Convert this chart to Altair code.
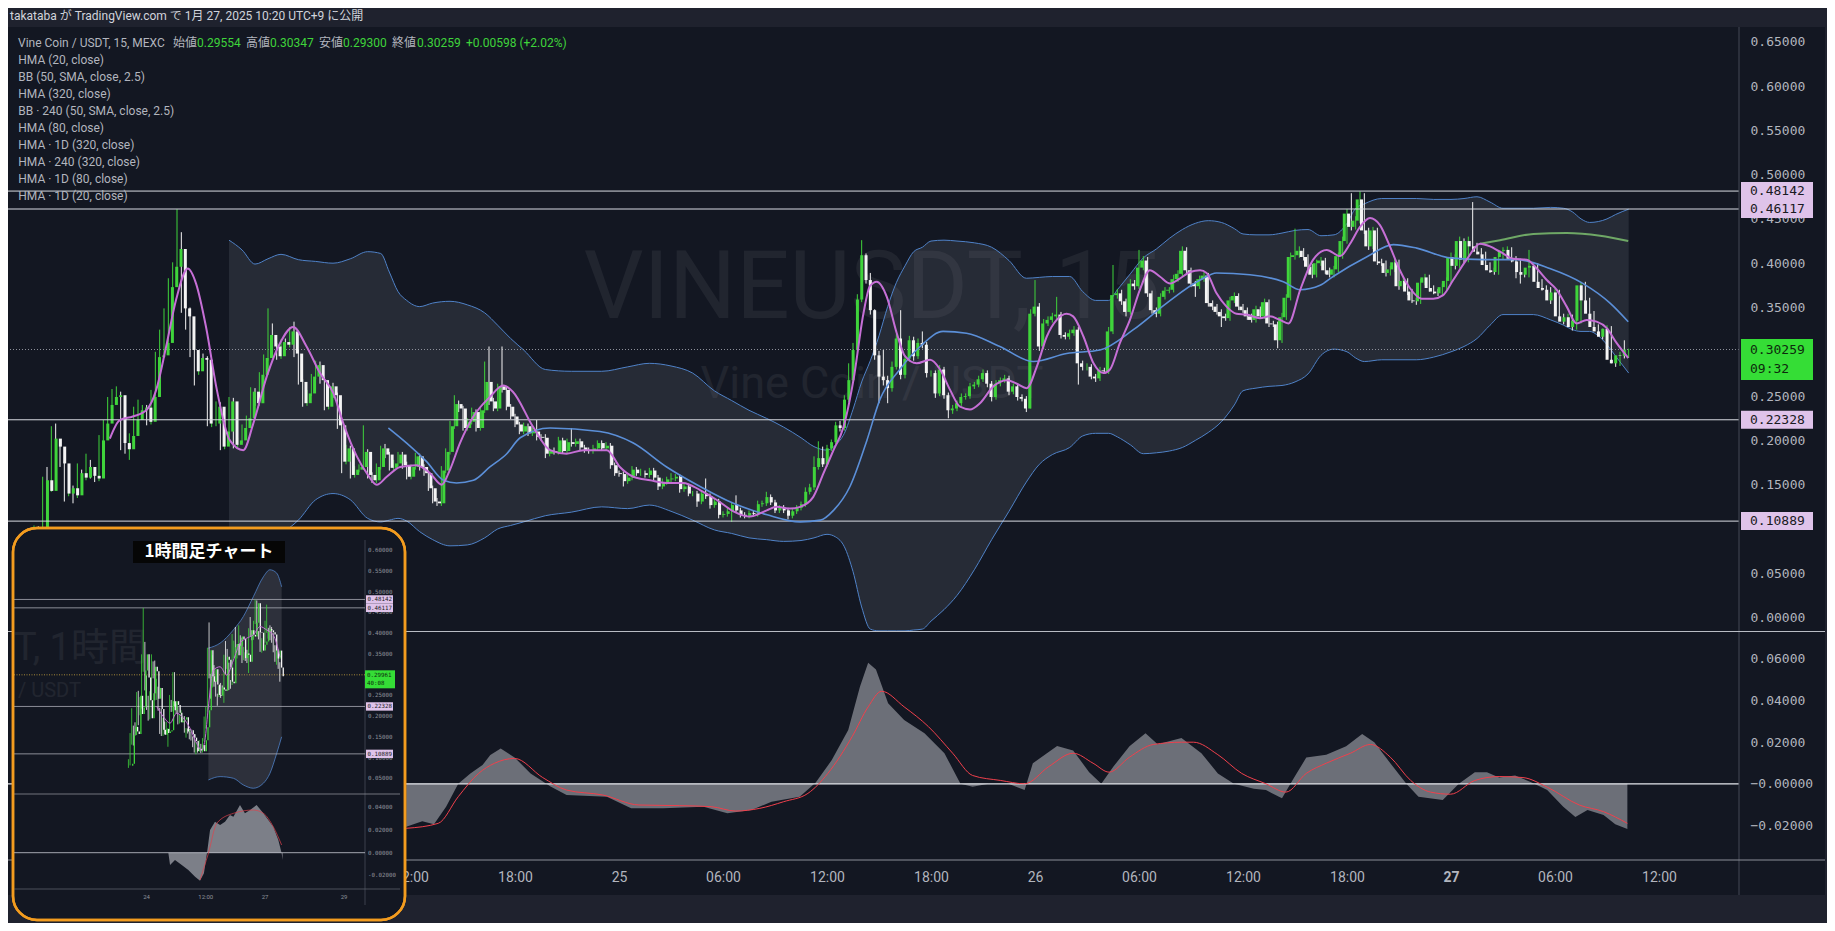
import altair as alt
import numpy as np
import pandas as pd

# ===================== DATA =====================
HEADER = "takataba が TradingView.com で 1月 27, 2025 10:20 UTC+9 に公開"
SYMBOL_LINE = "Vine Coin / USDT, 15, MEXC"
OHLC_NAMES = ["始値", "高値", "安値", "終値"]
OHLC_VALUES = ["0.29554", "0.30347", "0.29300", "0.30259"]
CHANGE = "+0.00598 (+2.02%)"
INDICATORS = ["HMA (20, close)", "BB (50, SMA, close, 2.5)", "HMA (320, close)",
              "BB · 240 (50, SMA, close, 2.5)", "HMA (80, close)", "HMA · 1D (320, close)",
              "HMA · 240 (320, close)", "HMA · 1D (80, close)", "HMA · 1D (20, close)"]
WATERMARK = ["VINEUSDT, 15", "Vine Coin / USDT"]
INSET_TITLE = "1時間足チャート"
INSET_WATERMARK = ["T, 1時間", "/ USDT"]

# 15-minute candles; q = quarter-hours relative to 27 Jan 00:00, prices in 1/1000 USDT
FIRST_Q = -330
FIRST_OPEN = 80
CLOSE = [
    92, 85, 95, 100, 92, 155, 143, 202, 193, 174,
    140, 146, 138, 163, 158, 170, 160, 157, 200, 219,
    240, 249, 251, 197, 190, 205, 223, 234, 237, 221,
    249, 294, 296, 310, 373, 396, 416, 349, 340, 302,
    278, 293, 291, 219, 219, 238, 193, 210, 244, 195,
    200, 214, 225, 255, 242, 274, 293, 319, 306, 295,
    311, 308, 323, 298, 266, 242, 253, 272, 285, 268,
    238, 261, 251, 217, 176, 191, 161, 167, 170, 187,
    161, 155, 170, 191, 184, 169, 174, 184, 172, 159,
    170, 182, 170, 163, 146, 131, 129, 166, 187, 216,
    241, 236, 214, 221, 232, 214, 234, 266, 244, 236,
    261, 257, 238, 227, 218, 210, 216, 208, 210, 204,
    203, 185, 188, 187, 200, 188, 198, 196, 199, 192,
    189, 188, 191, 197, 191, 194, 172, 163, 162, 154,
    158, 167, 163, 163, 161, 166, 158, 148, 153, 156,
    157, 159, 145, 148, 140, 140, 131, 140, 137, 127,
    131, 116, 117, 120, 127, 121, 116, 115, 118, 117,
    128, 129, 136, 130, 121, 124, 121, 115, 120, 124,
    128, 142, 147, 170, 180, 173, 191, 198, 217, 214,
    246, 268, 302, 359, 409, 381, 347, 296, 272, 268,
    259, 283, 315, 274, 292, 313, 295, 310, 308, 276,
    276, 253, 280, 251, 234, 236, 242, 249, 250, 261,
    263, 269, 276, 264, 249, 264, 268, 270, 255, 261,
    249, 247, 236, 343, 351, 306, 332, 336, 340, 342,
    319, 317, 321, 325, 287, 283, 283, 272, 270, 279,
    278, 323, 364, 366, 357, 345, 377, 374, 395, 403,
    366, 347, 343, 362, 369, 370, 382, 388, 414, 392,
    377, 374, 382, 386, 355, 351, 345, 340, 338, 358,
    363, 351, 347, 340, 336, 348, 340, 356, 332, 331,
    313, 339, 361, 407, 409, 414, 407, 396, 387, 400,
    403, 392, 387, 393, 408, 425, 456, 441, 448, 472,
    437, 419, 437, 402, 400, 389, 393, 401, 374, 380,
    368, 358, 357, 378, 384, 372, 368, 366, 373, 380,
    407, 397, 425, 404, 425, 419, 413, 410, 398, 392,
    390, 407, 414, 415, 405, 402, 390, 387, 395, 397,
    379, 372, 370, 358, 367, 340, 334, 339, 328, 335,
    375, 358, 343, 328, 323, 317, 326, 291, 287, 296,
    295.5, 302.59,
]
UPPER_WICK = [
    3, 4, 5, 4, 3, 4, 15, 14, 17, 4,
    3, 8, 3, 11, 4, 15, 8, 3, 6, 4,
    9, 9, 10, 4, 3, 3, 15, 12, 3, 3,
    8, 6, 29, 39, 10, 5, 45, 19, 30, 10,
    4, 3, 5, 4, 3, 6, 5, 3, 5, 4,
    3, 4, 3, 5, 4, 3, 4, 30, 13, 4,
    3, 4, 5, 11, 4, 3, 4, 3, 5, 4,
    3, 5, 4, 3, 3, 4, 3, 4, 3, 30,
    3, 3, 4, 3, 5, 3, 4, 3, 3, 4,
    3, 4, 3, 3, 3, 3, 4, 5, 4, 6,
    10, 4, 3, 4, 5, 3, 4, 23, 40, 4,
    3, 45, 4, 3, 3, 3, 4, 3, 4, 13,
    3, 4, 3, 4, 4, 3, 4, 16, 3, 3,
    3, 3, 4, 3, 3, 4, 3, 3, 3, 3,
    3, 4, 3, 5, 3, 3, 3, 3, 4, 3,
    6, 3, 3, 3, 3, 3, 3, 4, 17, 3,
    3, 3, 3, 4, 3, 11, 3, 3, 3, 3,
    4, 3, 6, 3, 3, 3, 3, 3, 3, 3,
    3, 5, 4, 12, 19, 13, 4, 3, 4, 5,
    5, 19, 8, 6, 17, 2, 8, 1, 5, 30,
    5, 6, 5, 32, 4, 5, 4, 5, 13, 3,
    3, 3, 5, 3, 3, 4, 3, 4, 3, 4,
    3, 4, 4, 3, 3, 4, 3, 4, 3, 3,
    3, 3, 3, 5, 30, 4, 5, 4, 4, 20,
    3, 3, 4, 4, 3, 3, 4, 3, 3, 4,
    3, 5, 34, 5, 4, 3, 5, 4, 20, 5,
    4, 3, 3, 4, 4, 3, 5, 4, 5, 4,
    3, 3, 4, 4, 3, 3, 3, 3, 3, 4,
    4, 3, 3, 3, 3, 4, 3, 4, 3, 3,
    3, 5, 4, 5, 30, 5, 3, 3, 3, 4,
    4, 3, 3, 4, 4, 5, 5, 23, 5, 9,
    7, 3, 4, 3, 3, 3, 4, 4, 3, 4,
    3, 3, 3, 4, 4, 3, 3, 3, 4, 4,
    5, 3, 5, 3, 5, 44, 4, 4, 3, 3,
    3, 4, 4, 4, 3, 3, 3, 3, 20, 4,
    3, 3, 3, 3, 4, 3, 3, 4, 3, 4,
    4, 4, 3, 3, 3, 3, 4, 3, 3, 4,
    17, 0.88,
]
LOWER_WICK = [
    5, 6, 4, 5, 6, 4, 12, 1, 7, 4,
    9, 3, 9, 3, 3, 3, 3, 4, 3, 3,
    3, 3, 3, 8, 5, 12, 3, 3, 3, 4,
    3, 3, 3, 3, 3, 3, 3, 5, 15, 8,
    16, 4, 3, 3, 4, 3, 4, 3, 3, 4,
    3, 3, 4, 3, 3, 3, 3, 3, 4, 4,
    3, 3, 3, 4, 3, 4, 3, 3, 3, 4,
    4, 3, 3, 4, 13, 3, 4, 3, 3, 3,
    4, 3, 3, 3, 4, 3, 3, 3, 4, 3,
    3, 3, 4, 3, 3, 2, 3, 3, 3, 3,
    3, 4, 3, 3, 3, 4, 3, 3, 4, 3,
    3, 3, 4, 3, 3, 3, 3, 3, 3, 4,
    3, 5, 3, 3, 3, 3, 3, 3, 3, 3,
    3, 3, 3, 3, 3, 3, 4, 3, 3, 6,
    3, 3, 3, 3, 3, 3, 3, 4, 3, 3,
    3, 3, 4, 3, 3, 3, 6, 3, 3, 4,
    3, 4, 3, 3, 12, 3, 3, 3, 3, 3,
    3, 3, 3, 3, 3, 3, 3, 4, 3, 3,
    3, 3, 3, 3, 3, 3, 3, 3, 3, 4,
    3, 3, 3, 3, 3, 4, 5, 5, 30, 6,
    17, 4, 3, 5, 4, 3, 5, 3, 4, 5,
    4, 5, 3, 4, 9, 4, 3, 3, 3, 3,
    3, 3, 3, 4, 5, 3, 3, 3, 4, 3,
    4, 3, 4, 0, 3, 5, 3, 3, 3, 3,
    4, 3, 3, 3, 24, 4, 4, 3, 4, 3,
    3, 3, 3, 4, 4, 5, 3, 4, 3, 3,
    4, 4, 4, 3, 3, 3, 3, 3, 3, 4,
    4, 12, 3, 3, 4, 4, 3, 12, 3, 3,
    3, 4, 3, 4, 3, 3, 3, 3, 4, 3,
    9, 3, 3, 3, 3, 3, 4, 3, 4, 3,
    3, 4, 3, 3, 3, 3, 3, 4, 3, 3,
    4, 4, 3, 4, 3, 4, 3, 3, 4, 3,
    4, 3, 4, 3, 3, 4, 3, 3, 3, 3,
    3, 4, 3, 4, 3, 4, 3, 3, 4, 3,
    3, 3, 3, 3, 4, 19, 13, 3, 3, 3,
    4, 3, 3, 4, 3, 4, 3, 3, 4, 3,
    3, 4, 3, 4, 3, 3, 3, 4, 4, 3,
    3, 2.54,
]

# Bollinger band (50, 2.5)
BB_Q = [-282, -279, -276, -273, -270, -266, -262, -258, -254, -250,
        -247, -245, -243, -241, -238, -235, -231, -227, -223, -220,
        -217, -214, -209, -203, -196, -190, -185, -180, -175, -170,
        -166, -162, -158, -154, -150, -147, -144, -142, -140, -138,
        -136, -134, -132, -130, -128, -126, -124, -122, -120, -117,
        -114, -110, -106, -102, -98, -95, -92, -88, -85, -82,
        -79, -77, -74, -71, -68, -65, -62, -59, -56, -53,
        -50, -48, -45, -42, -39, -36, -33, -30, -27, -24,
        -22, -20, -16, -12, -8, -4, 0, 3, 6, 9,
        12, 15, 19, 23, 26, 28, 30, 32, 34, 36,
        38, 41]
BB_UP = [426, 415, 399, 405, 410, 404, 402, 400, 405, 413,
         411, 390, 368, 358, 351, 355, 357, 353, 344, 330,
         315, 302, 280, 278, 278, 283, 287, 284, 276, 256,
         245, 234, 225, 215, 203, 193, 189, 195, 208, 235,
         266, 290, 318, 351, 378, 397, 413, 418, 425, 426,
         425, 423, 418, 403, 383, 384, 385, 385, 368, 358,
         358, 370, 388, 406, 416, 428, 438, 445, 448, 446,
         439, 433, 432, 432, 434, 437, 438, 431, 432, 445,
         462, 467, 473, 473, 473, 472, 472, 473, 475, 469,
         462, 462, 462, 463, 462, 458, 450, 446, 447, 450,
         455, 461]
BB_LO = [85, 80, 80, 88, 95, 110, 133, 140, 133, 112,
         108, 110, 112, 109, 97, 88, 81, 82, 90, 100,
         104, 108, 115, 119, 125, 123, 127, 120, 110, 99,
         95, 90, 88, 86, 87, 90, 94, 91, 80, 52,
         12, -13, -15, -15, -15, -15, -14, -13, -4, 9,
         25, 54, 88, 120, 153, 173, 184, 192, 205, 208,
         208, 204, 195, 185, 186, 188, 192, 200, 209, 221,
         240, 256, 259, 261, 262, 266, 275, 296, 303, 300,
         293, 289, 291, 291, 291, 294, 300, 306, 315, 330,
         342, 342, 342, 336, 330, 325, 323, 323, 318, 308,
         295, 276]

HMA80_Q = [-245.2, -241, -236.4, -232.5, -229.5, -225.6, -221.8, -217.9, -214.8, -207.9,
           -196.4, -188.7, -181, -173.3, -165.6, -157.8, -150.2, -145.5, -142.5, -138.7,
           -134.8, -131.8, -127.2, -122.5, -117.2, -111.8, -104.1, -96.4, -88.7, -81,
           -73.3, -65.6, -57.9, -54.1, -46.4, -38.7, -34.8, -30.2, -27.2, -19.5,
           -13.3, -7.9, -0.2, 7.5, 15.2, 22.8, 30.5, 36.7, 40.9]
HMA80_P = [214, 197, 176, 155, 152, 155, 170, 185, 203, 214,
           210, 197, 170, 148, 129, 116, 108, 110, 121, 148,
           200, 246, 280, 306, 323, 321, 306, 289, 298, 302,
           325, 355, 381, 389, 387, 379, 370, 375, 385, 407,
           421, 417, 406, 404, 404, 394, 377, 355, 334]

HMA20_Q = [-309.5, -307.2, -304.2, -301.1, -298.8, -296.5, -294.2, -291.5, -289.6, -287.3,
           -284.8, -281.8, -278.7, -276.4, -273.3, -270.2, -267.2, -264.1, -261, -257.9,
           -255.6, -252.5, -250.2, -247.9, -245.6, -242.5, -238.7, -235.6, -232.9, -231,
           -228.7, -225.6, -221.8, -218.7, -216.5, -211.8, -207.9, -204.1, -200.2, -194.8,
           -191.8, -188.7, -184.8, -181, -177.2, -173.3, -169.5, -165.6, -161.8, -157.9,
           -155.6, -152.5, -150.2, -147.2, -144.8, -142.5, -140.2, -137.9, -135.6, -134.1,
           -132.5, -130.2, -127.9, -126, -123.3, -120.2, -117.9, -115.6, -113.3, -111,
           -108.7, -105.6, -102.5, -100.2, -97.9, -95.6, -93.3, -91, -88.7, -87.2,
           -84.8, -82.5, -80.2, -78.7, -76.4, -74.1, -71.8, -69.5, -67.2, -64.8,
           -62.5, -60.2, -57.9, -56.4, -54.1, -51.8, -49.5, -47.2, -44.1, -41.8,
           -39.5, -37.5, -34.8, -31.8, -28.7, -25.6, -23.3, -21, -18.7, -16.4,
           -14.1, -11.8, -9.5, -6.8, -4.1, -1.8, 0.5, 3.6, 6.7, 9,
           11.3, 14.4, 17.5, 19.8, 22.1, 24.4, 26.7, 29, 31.3, 33.6,
           35.9, 38.2, 40.9]
HMA20_P = [202, 223, 227, 234, 257, 306, 359, 394, 377, 328,
           257, 200, 189, 219, 272, 310, 328, 306, 276, 253,
           219, 182, 163, 150, 159, 170, 172, 163, 150, 167,
           197, 227, 249, 262, 255, 215, 189, 185, 189, 189,
           170, 159, 155, 152, 152, 144, 133, 120, 114, 121,
           125, 123, 125, 136, 163, 189, 215, 268, 343, 374,
           379, 362, 321, 295, 287, 291, 280, 257, 238, 235,
           242, 261, 268, 264, 259, 283, 317, 336, 343, 340,
           317, 287, 276, 280, 310, 336, 370, 392, 385, 377,
           383, 390, 392, 389, 366, 351, 343, 342, 338, 340,
           336, 332, 370, 404, 415, 408, 422, 441, 451, 443,
           419, 392, 372, 360, 360, 364, 381, 404, 422, 419,
           413, 405, 404, 394, 381, 370, 351, 332, 336, 334,
           327, 310, 293]

HMA320_Q = [6.7, 11.3, 19, 26.7, 34.4, 40.9]
HMA320_P = [422, 426, 433, 434, 431, 425]

# oscillator pane (value and signal line)
OSC_Q = [-241.1, -237.4, -234.7, -231.9, -229.1, -226.3, -223.5, -221.7, -219.3, -216.1,
         -212.4, -207.8, -204.1, -194.8, -189.2, -181.8, -172.5, -167.0, -161.4, -156.8,
         -150.3, -146.6, -142.9, -139.1, -136.4, -134.5, -132.7, -129.9, -126.2, -121.5,
         -116.9, -113.2, -110.4, -106.7, -102.1, -98.4, -96.5, -90.9, -87.2, -83.5,
         -80.7, -77.9, -74.2, -70.5, -67.7, -62.2, -57.6, -53.8, -50.1, -45.5,
         -42.7, -39.0, -36.2, -33.4, -28.8, -24.2, -20.5, -17.7, -14.0, -10.3,
         -7.5, -1.9, 1.8, 5.5, 8.3, 11.1, 14.8, 18.5, 22.2, 25.9,
         28.7, 31.5, 35.2, 37.9, 40.7]
OSC_V = [-0.0206, -0.018, -0.0195, -0.011, 0.0, 0.005, 0.009, 0.0138, 0.017, 0.0127,
         0.005, -0.0013, -0.0054, -0.0062, -0.0118, -0.0118, -0.011, -0.0142, -0.0126, -0.0086,
         -0.0062, 0.0006, 0.0114, 0.0259, 0.0467, 0.0582, 0.055, 0.0387, 0.0307, 0.0243,
         0.0147, 0.0, -0.0014, 0.0, 0.0, -0.003, 0.0099, 0.0182, 0.016, 0.0056,
         0.0, 0.0083, 0.018, 0.0243, 0.019, 0.022, 0.0147, 0.005, 0.0, -0.0024,
         -0.003, -0.007, 0.003, 0.0126, 0.014, 0.018, 0.024, 0.020, 0.0099, 0.0,
         -0.0062, -0.0078, 0.0, 0.0056, 0.0056, 0.003, 0.004, 0.0008, -0.003, -0.011,
         -0.016, -0.0126, -0.015, -0.0195, -0.0217]
SIG_Q = [-241.1, -233.7, -229.1, -224.4, -220.7, -216.1, -209.6, -204.1, -195.7, -187.4,
         -178.1, -170.7, -165.1, -159.5, -154.0, -148.4, -143.8, -138.2, -134.5, -131.4,
         -126.2, -120.6, -115.0, -110.4, -103.9, -98.4, -92.8, -87.2, -82.6, -78.9,
         -74.2, -68.7, -62.2, -59.4, -53.8, -48.3, -42.7, -38.1, -33.4, -28.8,
         -23.2, -18.6, -14.0, -9.3, -4.7, -0.1, 5.5, 11.1, 16.6, 22.2,
         29.6, 35.2, 40.7]
SIG_V = [-0.0214, -0.019, -0.0062, 0.005, 0.0099, 0.0122, 0.003, -0.003, -0.0054, -0.0102,
         -0.0105, -0.011, -0.0131, -0.0118, -0.0086, -0.0046, 0.005, 0.0227, 0.037, 0.0445,
         0.037, 0.0275, 0.0147, 0.004, 0.0016, 0.0, 0.0083, 0.0147, 0.0099, 0.0056,
         0.0128, 0.0189, 0.020, 0.020, 0.014, 0.005, 0.0, -0.004, 0.005, 0.0099,
         0.0147, 0.0189, 0.0128, 0.0016, -0.004, -0.005, 0.0016, 0.0035, 0.003, -0.0016,
         -0.0102, -0.0134, -0.019]

LEVELS = [0.48142, 0.46117, 0.22328, 0.10889]
LAST_PRICE, COUNTDOWN = 0.30259, "09:32"
# 0.10000 and 0.30000 sit fully under the price boxes in the original, so they are not listed
PRICE_TICKS = [0.0, 0.05, 0.15, 0.20, 0.25, 0.35, 0.40, 0.45, 0.50, 0.55, 0.60, 0.65]
OSC_TICKS = [0.06, 0.04, 0.02, 0.0, -0.02]
TIME_TICKS = list(range(-78, 13, 6))      # hours from 27 Jan 00:00

# inset: 1-hour chart (hours from 27 Jan 00:00)
INSET_BB_H = [-34.4, -27.3, -19.2, -13.2, -7.1, -1.0, 3.0, 7.1, 10.1]
INSET_BB_UP = [364, 376, 408, 440, 488, 536, 553, 545, 512]
INSET_BB_LO = [46, 54, 50, 34, 26, 38, 62, 110, 150]
INSET_HMA_H = [-65.8, -61.8, -57.7, -53.7, -49.6, -45.6, -41.5, -38.5, -36.5, -34.4,
               -31.4, -27.3, -23.3, -19.2, -15.2, -11.1, -7.1, -3.0, 1.0, 5.0, 9.1]
INSET_HMA_P = [223, 199, 183, 207, 195, 171, 134, 118, 142, 223,
               311, 319, 299, 335, 376, 388, 396, 416, 408, 396, 343]
INSET_OSC_H = [-58.7, -57.7, -54.7, -50.6, -46.6, -42.5, -39.5, -37.1, -35.0, -33.4,
               -30.4, -27.3, -24.3, -21.3, -19.2, -15.2, -12.2, -9.1, -5.1, -1.0,
               2.0, 5.0, 8.1, 10.1, 10.7]
INSET_OSC_V = [-0.0005, -0.0108, -0.0064, -0.0108, -0.0152, -0.0211, -0.0247, -0.0182, 0.0024, 0.020,
               0.0273, 0.0244, 0.0273, 0.0332, 0.0317, 0.042, 0.0347, 0.0376, 0.042, 0.0347,
               0.0288, 0.0229, 0.0112, -0.0005, -0.0064]
INSET_SIG_H = [-39.5, -34.4, -29.3, -19.2, -7.1, -1.0, 5.0, 10.1]
INSET_SIG_V = [-0.024, -0.0005, 0.026, 0.0347, 0.0376, 0.0347, 0.0229, 0.0068]
INSET_LAST, INSET_COUNTDOWN = 0.29961, "40:08"
INSET_PRICE_TICKS = [0.60, 0.55, 0.50, 0.45, 0.40, 0.35, 0.30, 0.25, 0.20, 0.15, 0.10, 0.05]
INSET_OSC_TICKS = [0.04, 0.02, 0.0, -0.02]
INSET_TIME_H = [-72, -36, 0, 48]
INSET_TIME_LABELS = ["24", "12:00", "27", "29"]

# ===================== STYLE / LAYOUT =====================
W, H = 1731, 852
X_DOM = [-83.25, 16.615]
PY_DOM = [-0.27359, 0.68804]
OY_DOM = [-0.036635, 0.37298]
IX_DOM = [-156.16, 895.6]
IPY_DOM = [-0.14716, 1.90832]
IOY_DOM = [-0.006432, 0.74423]

BG = "#131722"
BAND = "#1f222e"
GREEN = "#3fd43b"
WHITE = "#f4f4f4"
TXT = "#b2b5be"
BLUE = "#4f82c8"
PINK = "#c66fd6"
LAV = "#dfc3ea"
SANS = "Roboto, 'Noto Sans CJK JP', sans-serif"
MONO = "'DejaVu Sans Mono', monospace"
CJK = "'Noto Sans CJK JP', sans-serif"

ONE = pd.DataFrame({"k": [0]})


def sc(dom):
    return alt.Scale(domain=dom, nice=False, zero=False)


def txt(text, x, y, size, color, font=SANS, align="left", baseline="alphabetic", **kw):
    return alt.Chart(ONE).mark_text(text=text, align=align, baseline=baseline, font=font,
                                    fontSize=size, color=color, **kw).encode(
        x=alt.value(x), y=alt.value(y))


def box(x1, x2, y1, y2, **kw):
    return alt.Chart(ONE).mark_rect(**kw).encode(
        x=alt.value(x1), x2=alt.value(x2), y=alt.value(y1), y2=alt.value(y2))


def hline(x1, x2, y, color, width=1.0):
    return alt.Chart(ONE).mark_rule(color=color, strokeWidth=width).encode(
        x=alt.value(x1), x2=alt.value(x2), y=alt.value(y))


def vline(x, y1, y2, color, width=1.0):
    return alt.Chart(ONE).mark_rule(color=color, strokeWidth=width).encode(
        x=alt.value(x), y=alt.value(y1), y2=alt.value(y2))


# ---------- candle table ----------
rows = []
prev = FIRST_OPEN
for i, c in enumerate(CLOSE):
    o = prev
    rows.append(dict(h=(FIRST_Q + i) / 4.0, o=o / 1000, c=c / 1000,
                     hi=(max(o, c) + UPPER_WICK[i]) / 1000,
                     lo=(min(o, c) - LOWER_WICK[i]) / 1000))
    prev = c
cdf = pd.DataFrame(rows)
cdf["hour"] = np.floor(cdf["h"])
hourly = (cdf[cdf["hour"] < 10].groupby("hour")
          .agg(o=("o", "first"), c=("c", "last"), hi=("hi", "max"), lo=("lo", "min"))
          .reset_index().rename(columns={"hour": "h"}))

bull = alt.condition("datum.c >= datum.o", alt.value(GREEN), alt.value(WHITE))

price_axis = alt.Axis(orient="right", values=PRICE_TICKS, format=".5f", title=None, grid=False,
                      ticks=False, domain=False, labelColor=TXT, labelFont=MONO, labelFontSize=13,
                      labelPadding=11, labelOverlap=False, labelFlush=False)
osc_axis = alt.Axis(orient="right", values=OSC_TICKS, title=None, grid=False, ticks=False,
                    domain=False, labelColor=TXT, labelFont=MONO, labelFontSize=13,
                    labelPadding=11, labelOverlap=False, labelFlush=False,
                    labelExpr="abs(datum.value) < 0.001 ? '\u22120.00000' : format(datum.value, '.5f')")
time_axis = alt.Axis(orient="bottom", values=TIME_TICKS, title=None, grid=False, ticks=False,
                     domain=False, labelColor=TXT, labelFont=SANS, labelFontSize=14,
                     labelPadding=10, labelOverlap=False, labelFlush=False,
                     labelFontWeight={"condition": {"test": "datum.value === 0", "value": "bold"},
                                      "value": "normal"},
                     labelExpr="datum.value % 24 === 0 ? '' + (27 + datum.value / 24) : "
                               "((((datum.value % 24) + 24) % 24) < 10 ? '0' : '') + "
                               "(((datum.value % 24) + 24) % 24) + ':00'")


def PX(field="h", axis=None):
    return alt.X(f"{field}:Q", scale=sc(X_DOM), axis=axis)


def PY(field, axis=None):
    return alt.Y(f"{field}:Q", scale=sc(PY_DOM), axis=axis)


# ---------- main price pane ----------
bbdf = pd.DataFrame({"h": np.array(BB_Q) / 4, "up": np.array(BB_UP) / 1000, "lo": np.array(BB_LO) / 1000})


def line_df(qs, ps):
    return pd.DataFrame({"h": np.array(qs) / 4, "p": np.array(ps) / 1000})


lvdf = pd.DataFrame({"p": LEVELS, "label": [f"{v:.5f}" for v in LEVELS]})
lpdf = pd.DataFrame({"p": [LAST_PRICE], "label": [f"{LAST_PRICE:.5f}"], "timer": [COUNTDOWN]})

price_layers = [
    alt.Chart(bbdf).mark_area(color="#8a8d98", opacity=0.17, interpolate="monotone").encode(
        x=PX(), y=PY("up"), y2="lo:Q"),
    alt.Chart(bbdf).mark_line(color=BLUE, strokeWidth=1, interpolate="monotone").encode(x=PX(), y=PY("up")),
    alt.Chart(bbdf).mark_line(color=BLUE, strokeWidth=1, interpolate="monotone").encode(x=PX(), y=PY("lo")),
    alt.Chart(lpdf).mark_rule(color="#8d909a", strokeDash=[1, 2], strokeWidth=1).encode(y=PY("p")),
    alt.Chart(cdf).mark_rule(strokeWidth=1).encode(
        x=PX(axis=time_axis), y=PY("lo", axis=price_axis), y2="hi:Q", color=bull),
    alt.Chart(cdf).mark_bar(size=3).encode(x=PX(), y=PY("o"), y2="c:Q", color=bull),
    alt.Chart(lvdf).mark_rule(color="#d8dbe2", strokeWidth=1).encode(y=PY("p")),
    alt.Chart(line_df(HMA80_Q, HMA80_P)).mark_line(color="#5b8fd8", strokeWidth=1.6, interpolate="monotone").encode(x=PX(), y=PY("p")),
    alt.Chart(line_df(HMA320_Q, HMA320_P)).mark_line(color="#6fa866", strokeWidth=2, interpolate="monotone").encode(x=PX(), y=PY("p")),
    alt.Chart(line_df(HMA20_Q, HMA20_P)).mark_line(color=PINK, strokeWidth=2, interpolate="monotone").encode(x=PX(), y=PY("p")),
    alt.Chart(lvdf).mark_rect(color=LAV, yOffset=-9, y2Offset=9).encode(
        x=alt.value(1733), x2=alt.value(1805), y=PY("p"), y2="p:Q"),
    alt.Chart(lvdf).mark_text(align="left", baseline="middle", font=MONO, fontSize=13,
                              color="#1a1a22").encode(x=alt.value(1742), y=PY("p"), text="label:N"),
    alt.Chart(lpdf).mark_rect(color="#35dd36", yOffset=-10.5, y2Offset=30.5).encode(
        x=alt.value(1733), x2=alt.value(1805), y=PY("p"), y2="p:Q"),
    alt.Chart(lpdf).mark_text(align="left", baseline="middle", font=MONO, fontSize=13,
                              color="#0d2a0d").encode(x=alt.value(1742), y=PY("p"), text="label:N"),
    alt.Chart(lpdf).mark_text(align="left", baseline="middle", font=MONO, fontSize=13, dy=19,
                              color="#0d2a0d").encode(x=alt.value(1742), y=PY("p"), text="timer:N"),
]

# ---------- oscillator pane ----------
oscdf = pd.DataFrame({"h": np.array(OSC_Q) / 4, "v": OSC_V})
sigdf = pd.DataFrame({"h": np.array(SIG_Q) / 4, "v": SIG_V})
osc_layers = [
    alt.Chart(oscdf).mark_area(color="#6c6f78").encode(
        x=PX(), y=alt.Y("v:Q", scale=sc(OY_DOM), axis=osc_axis), y2=alt.Y2Datum(0)),
    alt.Chart(ONE).mark_rule(color="#e6e8ee", strokeWidth=1.2).encode(
        y=alt.YDatum(0, scale=sc(OY_DOM), axis=None)),
    alt.Chart(sigdf).mark_line(color="#f0404c", strokeWidth=1, interpolate="monotone").encode(
        x=PX(), y=alt.Y("v:Q", scale=sc(OY_DOM), axis=None)),
]

# ---------- frame pieces ----------
frame = [
    box(0, 1819, 0, 19, color=BAND),
    box(0, 1819, 887, 915, color=BAND),
    box(1817, 1819, 0, 915, color=BAND),
    txt(WATERMARK[0], 864, 310, 94, "#ffffff", align="center", opacity=0.06),
    txt(WATERMARK[1], 864, 390, 45, "#ffffff", align="center", opacity=0.06),
]
separators = [
    vline(1731, 19, 887, "#444854"),
    hline(0, 1817, 623.5, "#b9bcc4"),
    hline(0, 1817, 852, "#8c8f98"),
]

legend_x = [10, 165, 189, 238, 262, 311, 335, 384, 409, 458]
legend_texts = [SYMBOL_LINE]
for n, v in zip(OHLC_NAMES, OHLC_VALUES):
    legend_texts += [n, v]
legend_texts.append(CHANGE)
legend_colors = [TXT] + [TXT, GREEN] * 4 + [GREEN]
legend = [txt(HEADER, 2, 11.5, 12, "#d1d4dc")]
for t, x, col in zip(legend_texts, legend_x, legend_colors):
    legend.append(txt(t, x, 38.5, 12, col))
legend.append(txt("\n".join(INDICATORS), 10.3, 55.5, 12, TXT, lineBreak="\n", lineHeight=17))


# ---------- inset (1h chart) ----------
def IX(field="h"):
    return alt.X(f"{field}:Q", scale=sc(IX_DOM), axis=None)


def IY(field):
    return alt.Y(f"{field}:Q", scale=sc(IPY_DOM), axis=None)


def IO(field):
    return alt.Y(f"{field}:Q", scale=sc(IOY_DOM), axis=None)


ibb = pd.DataFrame({"h": INSET_BB_H, "up": np.array(INSET_BB_UP) / 1000, "lo": np.array(INSET_BB_LO) / 1000})
ihma = pd.DataFrame({"h": INSET_HMA_H, "p": np.array(INSET_HMA_P) / 1000})
ilv = pd.DataFrame({"p": LEVELS, "label": [f"{v:.5f}" for v in LEVELS]})
ilast = pd.DataFrame({"p": [INSET_LAST], "label": [f"{INSET_LAST:.5f}"], "timer": [INSET_COUNTDOWN]})
iptk = pd.DataFrame({"p": INSET_PRICE_TICKS, "label": [f"{v:.5f}" for v in INSET_PRICE_TICKS]})
itime = pd.DataFrame({"h": INSET_TIME_H, "label": INSET_TIME_LABELS})
iosc = pd.DataFrame({"h": INSET_OSC_H, "v": INSET_OSC_V})
isig = pd.DataFrame({"h": INSET_SIG_H, "v": INSET_SIG_V})
iotk = pd.DataFrame({"v": INSET_OSC_TICKS, "label": [f"{v:.5f}" if v != 0 else "0.00000" for v in INSET_OSC_TICKS]})

inset_back = [
    box(5, 397, 520, 912, fill=BG, stroke="#f39c1f", strokeWidth=2.5, cornerRadius=24),
    txt(INSET_WATERMARK[0], 6, 652, 38, "#ffffff", opacity=0.06),
    txt(INSET_WATERMARK[1], 10, 689, 20, "#ffffff", opacity=0.06),
    vline(357, 532, 897, "#3c404c"),
    hline(6, 392, 786, "#8a8d96", 0.8),
    hline(6, 392, 881, "#5c5f6a", 0.8),
]
inset_layers = [
    alt.Chart(ibb).mark_area(color="#9598a1", opacity=0.2, interpolate="monotone").encode(x=IX(), y=IY("up"), y2="lo:Q"),
    alt.Chart(ibb).mark_line(color=BLUE, strokeWidth=0.8, interpolate="monotone").encode(x=IX(), y=IY("up")),
    alt.Chart(ibb).mark_line(color=BLUE, strokeWidth=0.8, interpolate="monotone").encode(x=IX(), y=IY("lo")),
    alt.Chart(ilv).mark_rule(color="#a9acb5", strokeWidth=0.8).encode(x=alt.value(6), x2=alt.value(357), y=IY("p")),
    alt.Chart(ilast).mark_rule(color="#c9a640", strokeDash=[1, 1.5], strokeWidth=0.8).encode(x=alt.value(6), x2=alt.value(357), y=IY("p")),
    alt.Chart(hourly).mark_rule(strokeWidth=0.8).encode(x=IX(), y=IY("lo"), y2="hi:Q", color=bull),
    alt.Chart(hourly).mark_bar(size=1.3).encode(x=IX(), y=IY("o"), y2="c:Q", color=bull),
    alt.Chart(ihma).mark_line(color=PINK, strokeWidth=1, interpolate="monotone").encode(x=IX(), y=IY("p")),
    alt.Chart(iptk).mark_text(align="left", baseline="middle", font=MONO, fontSize=5.8, color="#8f929b").encode(
        x=alt.value(360), y=IY("p"), text="label:N"),
    alt.Chart(ilv).mark_rect(color=LAV, yOffset=-4.2, y2Offset=4.2).encode(x=alt.value(358), x2=alt.value(385), y=IY("p"), y2="p:Q"),
    alt.Chart(ilv).mark_text(align="left", baseline="middle", font=MONO, fontSize=5.8, color="#1a1a22").encode(
        x=alt.value(359.5), y=IY("p"), text="label:N"),
    alt.Chart(ilast).mark_rect(color="#35dd36", yOffset=-4.5, y2Offset=13.5).encode(x=alt.value(357), x2=alt.value(387), y=IY("p"), y2="p:Q"),
    alt.Chart(ilast).mark_text(align="left", baseline="middle", font=MONO, fontSize=5.8, color="#0d2a0d").encode(
        x=alt.value(359), y=IY("p"), text="label:N"),
    alt.Chart(ilast).mark_text(align="left", baseline="middle", font=MONO, fontSize=5.8, dy=8, color="#0d2a0d").encode(
        x=alt.value(359), y=IY("p"), text="timer:N"),
    alt.Chart(itime).mark_text(align="center", baseline="middle", font=SANS, fontSize=6, color="#8f929b").encode(
        x=IX(), y=alt.value(888.7), text="label:N"),
    alt.Chart(iosc).mark_area(color="#7c7f88").encode(x=IX(), y=IO("v"), y2=alt.Y2Datum(0)),
    alt.Chart(ONE).mark_rule(color="#c9ccd4", strokeWidth=0.8).encode(
        x=alt.value(6), x2=alt.value(357), y=alt.YDatum(0, scale=sc(IOY_DOM), axis=None)),
    alt.Chart(isig).mark_line(color="#e0404a", strokeWidth=0.7, interpolate="monotone").encode(x=IX(), y=IO("v")),
    alt.Chart(iotk).mark_text(align="left", baseline="middle", font=MONO, fontSize=5.8, color="#8f929b").encode(
        x=alt.value(360), y=IO("v"), text="label:N"),
]
inset_front = [
    box(125, 277, 533, 555, color="#060606"),
    txt(INSET_TITLE, 201, 544, 17, "#ffffff", font=CJK, align="center", baseline="middle", fontWeight="bold"),
    box(5, 397, 520, 912, filled=False, stroke="#f39c1f", strokeWidth=2.5, cornerRadius=24),
]

chart = alt.layer(
    *frame, *price_layers, *osc_layers, *separators, *legend,
    *inset_back, *inset_layers, *inset_front,
).resolve_scale(x="independent", y="independent").properties(
    width=W, height=H, background=BG,
    padding={"left": 0, "top": 0, "right": 88, "bottom": 63},
    autosize=alt.AutoSizeParams(type="none"),
).configure_view(stroke=None)

chart.save("out.html", embed_options={"renderer": "svg", "actions": False})
